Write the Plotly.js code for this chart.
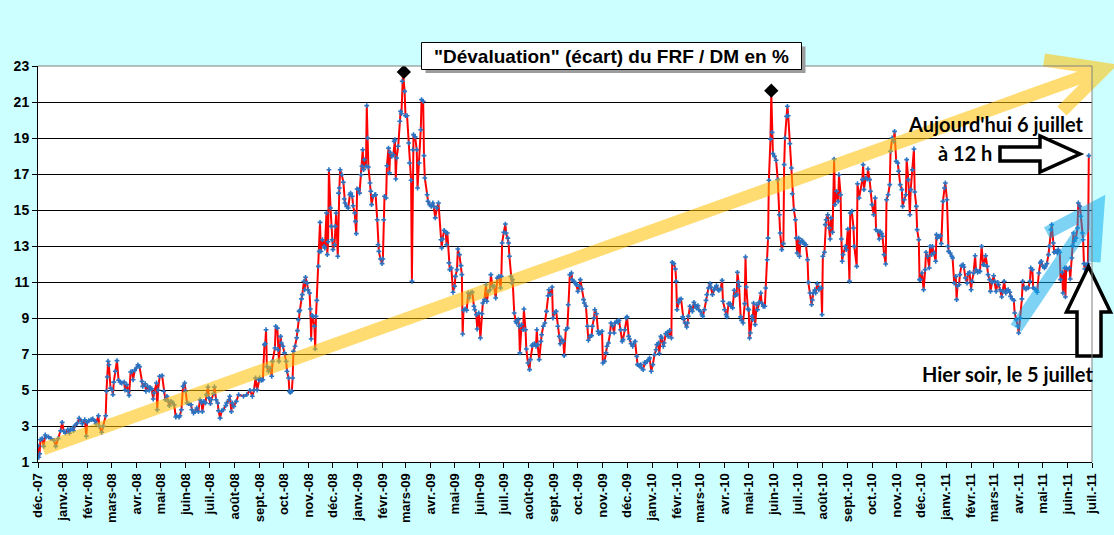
<!DOCTYPE html>
<html>
<head>
<meta charset="utf-8">
<script src="https://cdn.plot.ly/plotly-3.0.1.min.js"></script>
<style>
  html, body { margin: 0; padding: 0; background: #CCFFFF; }
  #chart { width: 1114px; height: 535px; }
</style>
</head>
<body>
<div id="chart"></div>
<script>
/* ----- Data -------------------------- */
// one row per month: day of month of each observation, and the matching value (%)
var obsMonths = [
  '2007-12', '2008-01', '2008-02', '2008-03', '2008-04', '2008-05', '2008-06', '2008-07',
  '2008-08', '2008-09', '2008-10', '2008-11', '2008-12', '2009-01', '2009-02', '2009-03',
  '2009-04', '2009-05', '2009-06', '2009-07', '2009-08', '2009-09', '2009-10', '2009-11',
  '2009-12', '2010-01', '2010-02', '2010-03', '2010-04', '2010-05', '2010-06', '2010-07',
  '2010-08', '2010-09', '2010-10', '2010-11', '2010-12', '2011-01', '2011-02', '2011-03',
  '2011-04', '2011-05', '2011-06'
];

var obsDays = [
  [1,2,3,4,6,8,10,11,14,17,21,23,26,29,31],
  [2,4,7,9,10,13,14,16,19,21,24,25,28,30,31],
  [2,5,7,10,11,14,15,18,20,23,24,25,26,27,29],
  [2,3,4,6,8,10,12,14,17,18,20,22,23,25,27,28,30],
  [1,3,5,8,9,12,13,15,17,18,20,22,23,26,27,28,30],
  [3,5,7,9,11,12,14,16,18,20,21,24,25,27,29,31],
  [1,3,5,8,9,11,13,15,17,19,21,22,24,26,27,29,30],
  [2,3,6,7,9,11,12,14,16,18,21,22,25,26,28,29,31],
  [3,6,12,16,20,23,25,27,29,31],
  [1,3,5,7,8,9,10,12,14,16,17,20,21,23,24,25,27,28,30],
  [2,4,5,7,8,9,11,12,13,15,17,18,19,20,21,23,24,26,27,28,30,31],
  [2,3,4,5,6,8,9,10,11,13,14,15,16,18,20,21,23,24,25,26,28,29,30],
  [1,3,4,5,7,8,9,10,12,14,15,16,18,20,22,23,25,26,28,29,30,31],
  [2,3,5,6,7,8,9,11,12,13,14,16,17,18,20,22,23,25,26,27,29,31],
  [1,2,3,5,6,8,9,10,12,14,15,16,17,18,20,22,23,24,25,26,28],
  [1,3,5,6,8,9,10,11,13,15,16,18,20,21,23,24,25,28,29,31],
  [2,4,5,7,9,11,14,15,16,18,20,21,22,24,25,27,29],
  [1,2,4,5,7,9,10,11,12,14,16,18,19,21,23,25,26,28,29,31],
  [2,4,5,7,9,10,12,14,15,17,19,21,23,25,27,28,29],
  [1,3,4,6,7,8,10,11,12,14,16,17,19,20,21,23,25,26,28,29,31],
  [2,3,5,6,8,10,11,12,14,16,17,19,21,23,25,26,28,30,31],
  [2,4,6,8,9,11,13,14,16,18,19,21,23,24,26,28,29],
  [1,3,4,6,8,9,11,13,14,16,18,19,21,22,24,26,27,29,31],
  [1,3,5,6,8,10,11,13,15,16,18,20,21,23,25,26,28,30],
  [1,3,4,6,8,9,11,13,14,16,18,19,21,23,24,26,28,29,31],
  [2,4,6,7,9,10,12,13,15,16,18,20,21,23,25,26,28,30,31],
  [1,3,4,6,8,9,11,13,14,15,17,19,20,22,23,25,27,28],
  [2,4,5,7,9,10,12,14,15,17,19,20,22,24,25,27,29,30],
  [1,3,4,6,8,9,11,13,14,16,17,18,19,21,22,24,26,27,28,30],
  [1,2,3,5,6,7,9,11,12,14,16,17,19,21,22,24,25,26,28,29,30,31],
  [2,4,6,8,9,11,13,14,15,17,18,19,21,23,24,26,28,29,30],
  [2,3,4,6,8,9,11,13,14,16,18,19,20,22,23,25,27,28,30,31],
  [1,3,4,5,7,9,10,11,13,15,16,18,20,21,23,24,25,26,29,30],
  [1,3,4,6,8,9,12,13,15,19,20,21,23,25,26,28,29],
  [1,3,5,6,8,10,11,13,14,16,18,19,21,23,24,26,28,29,31],
  [2,3,5,7,8,10,12,13,15,17,18,20,22,23,25,26,28,29,30],
  [2,4,6,7,9,11,12,14,15,17,19,20,21,23,25,26,28,30,31],
  [2,3,4,6,8,9,11,13,14,15,17,18,20,22,23,25,27,28,30],
  [1,2,4,6,7,9,11,12,14,16,17,19,21,22,24,25,27],
  [1,2,4,6,7,9,11,12,14,16,17,19,21,22,24,26,27,29,31],
  [1,3,5,6,8,10,11,13,15,16,18,19,21,23,24,26,28,29],
  [1,3,4,6,8,9,11,12,14,15,17,19,20,22,23,25,26,28,29,30],
  [1,3,4,6,7,8,9,11,13,14,16,17,19,20,21,22,24,26,27]
];

var obsValues = [
  [1.9,1.26,1.46,2.24,2.3,1.87,2.5,2.4,2.4,2.3,2.2,1.87,2.3,2.74,3.2],
  [2.7,2.6,2.8,2.6,2.8,2.87,2.74,3.04,3.17,3.43,3.26,3.13,3.35,2.43,3.2],
  [3.3,3.35,3.39,3.26,3.13,3.57,2.98,2.65,2.98,3.57,4.93,5.72,6.6,6.4,5.1],
  [5.0,4.74,5.44,6.04,6.63,5.54,5.43,5.39,5.44,5.0,5.3,4.93,4.7,6.0,6.04,5.57,6.09],
  [6.22,6.4,6.3,5.48,5.2,5.35,4.93,5.2,4.98,5.15,5.06,4.5,4.83,5.39,3.9,5.0,5.76],
  [5.8,4.93,4.46,4.65,4.37,4.13,4.37,4.3,4.18,3.5,3.57,3.5,3.57,3.9,5.2,5.39],
  [4.93,4.28,4.24,4.18,3.9,3.72,3.8,4.0,3.8,4.46,4.3,3.8,4.37,4.28,4.74,5.17,4.56],
  [4.24,4.46,4.8,5.17,4.46,4.28,3.85,3.44,3.85,3.9,4.13,4.28,4.46,4.65,3.8,4.28,4.09],
  [4.37,4.74,4.65,4.74,4.98,4.65,5.0,5.67,5.0,5.57],
  [5.67,5.54,5.57,7.52,7.57,8.35,6.3,6.04,6.22,5.76,6.59,7.33,8.54,8.44,7.24,6.59,7.98,7.61,7.43],
  [7.06,6.59,6.04,5.67,4.93,4.87,4.93,5.67,7.15,7.43,7.9,8.3,8.91,9.37,9.43,10.06,10.3,11.04,10.57,11.26,10.94,10.57],
  [10.39,9.5,7.83,9.15,9.09,8.54,7.28,9.09,9.98,11.87,12.7,14.31,12.7,13.35,12.98,12.89,14.83,12.52,13.24,17.24,15.11,14.09,13.35],
  [12.8,13.07,14.09,14.83,12.43,15.94,16.22,17.24,16.96,16.54,15.61,15.39,15.2,15.11,15.85,15.94,15.76,15.24,14.83,14.37,13.69,16.17],
  [16.13,15.94,16.96,17.43,18.35,17.24,17.8,17.43,20.8,19.0,17.39,16.5,16.04,15.3,15.76,15.85,15.85,14.46,13.07,12.7,12.28,12.02],
  [12.28,14.46,15.76,15.67,17.46,18.44,17.06,18.2,17.98,18.07,18.81,18.91,16.72,17.89,18.54,19.93,20.48,20.35,22.15,22.61,21.59],
  [20.24,20.24,18.72,17.61,16.65,11.04,18.35,19.19,19.06,18.35,16.22,17.61,19.46,21.13,21.04,18.02,16.78,15.85,15.48,15.3],
  [15.2,15.39,15.2,14.56,15.11,15.39,13.35,12.89,13.39,13.87,13.76,13.07,13.72,12.06,11.69,11.78,10.43],
  [10.76,11.31,11.69,12.83,12.52,11.91,11.41,8.11,9.43,9.5,9.43,10.39,10.11,10.39,10.43,9.65,9.46,9.19,8.39,9.28],
  [7.89,9.24,9.83,10.02,10.85,9.93,10.48,10.57,11.41,10.76,10.76,10.11,11.22,11.31,10.67,11.31,13.17],
  [13.76,14.22,13.72,13.44,13.17,12.43,11.31,10.94,11.13,9.28,8.81,8.72,8.91,8.54,7.06,8.63,8.35,9.5,8.35,7.28,6.5],
  [6.13,6.69,7.46,7.52,7.57,7.43,8.35,7.52,6.69,7.7,8.07,8.54,8.72,9.37,10.24,10.57,10.3,10.72,9.0],
  [9.28,9.37,8.54,7.98,7.57,7.8,7.7,6.91,8.35,8.44,9.74,11.41,11.5,11.13,11.04,10.94,10.85],
  [10.48,10.76,11.13,10.61,10.02,9.83,9.65,8.54,7.76,7.98,8.02,8.54,9.0,9.46,9.24,8.26,8.13,8.17,8.26],
  [6.5,6.59,7.06,7.43,7.61,8.17,8.72,8.57,8.17,8.72,8.81,8.76,8.87,8.35,7.7,7.8,8.35,9.0],
  [9.06,7.98,7.83,7.57,7.43,7.57,7.7,6.87,6.41,6.35,6.41,6.22,6.13,6.54,6.5,6.59,6.69,6.78,6.04],
  [6.41,6.96,7.24,7.52,7.61,7.02,7.98,7.89,7.43,7.61,8.13,8.2,7.98,8.31,7.89,12.09,12.02,11.72,11.04],
  [9.46,9.87,10.02,10.06,9.06,8.94,8.72,8.5,8.72,9.09,9.65,9.5,9.37,9.87,9.74,9.56,9.69,9.46],
  [9.37,9.19,9.09,9.46,9.98,10.3,10.67,10.91,10.72,10.3,10.57,10.67,10.8,10.57,10.54,10.61,11.09,9.93],
  [9.46,9.19,9.06,9.8,9.8,9.65,9.56,10.54,10.24,10.3,11.54,10.98,10.76,9.06,8.87,8.72,9.8,12.39,10.72,9.5],
  [9.46,7.89,8.17,9.09,8.91,9.83,8.63,9.74,9.46,9.87,10.39,9.83,9.65,9.65,10.67,12.24,13.44,16.65,18.94,21.5,19.31,18.13],
  [17.98,17.76,16.69,14.74,13.72,12.8,13.13,17.52,19.0,20.2,20.76,20.24,18.69,17.33,15.9,15.02,14.46,13.44,12.61],
  [13.44,12.43,13.17,13.31,13.2,13.1,13.07,12.24,10.98,10.39,9.74,10.0,10.39,10.57,10.39,10.91,10.57,10.67,10.67,9.19],
  [12.43,12.65,14.19,14.46,14.74,14.0,13.39,14.56,13.76,17.83,15.3,16.04,15.48,16.96,15.85,13.39,12.15,12.52,12.98,12.8],
  [13.94,11.04,14.83,14.93,14.0,12.98,11.87,16.46,15.67,16.69,17.52,16.13,16.78,16.72,17.28,16.69,16.04],
  [15.3,14.74,15.67,13.91,13.81,13.39,13.81,13.69,13.54,12.52,12.0,15.57,15.85,16.41,18.26,19.0,18.81,19.37,17.7],
  [17.61,17.15,16.41,16.13,15.2,15.57,15.85,17.8,16.69,14.74,16.13,17.24,18.39,16.0,15.2,13.91,13.35,11.13,11.13],
  [11.5,10.57,11.69,12.65,12.43,11.78,12.98,12.52,12.98,12.61,12.15,13.63,13.44,13.54,13.57,13.13,15.48,16.22,16.5],
  [15.57,12.98,12.7,12.61,12.43,12.33,10.94,11.31,10.02,10.76,10.85,11.41,11.91,11.96,11.83,11.22,10.94,11.46,11.54],
  [10.57,11.04,11.5,12.46,11.69,11.54,11.59,11.59,12.98,11.96,11.96,12.46,11.87,11.41,11.13,10.48,10.98],
  [11.35,11.04,10.48,10.98,10.85,10.57,10.17,10.48,11.04,10.39,10.54,10.57,10.43,10.2,10.06,9.98,9.28,8.91,8.54],
  [8.17,9.0,10.06,11.04,10.67,10.61,10.67,10.67,11.04,11.78,11.69,10.67,10.61,10.54,10.43,11.5,12.06,12.15],
  [11.87,11.78,11.87,12.02,12.52,12.98,13.91,14.19,13.17,12.65,12.7,12.61,12.8,12.65,11.13,11.54,10.39,11.78,10.17,11.78],
  [11.72,11.78,11.17,12.33,13.02,13.72,13.26,13.44,14.0,15.39,15.2,14.65,13.72,13.35,12.02,11.72,11.96,12.02,18.02]
];

// the two black diamonds marking the highest points
var peakDates = ['2009-02-27', '2010-05-29'];
var peakValues = [22.67, 21.63];

// x axis: one tick on the first of every month
var tickDates = [
  '2007-12-01','2008-01-01','2008-02-01','2008-03-01','2008-04-01','2008-05-01','2008-06-01',
  '2008-07-01','2008-08-01','2008-09-01','2008-10-01','2008-11-01','2008-12-01','2009-01-01',
  '2009-02-01','2009-03-01','2009-04-01','2009-05-01','2009-06-01','2009-07-01','2009-08-01',
  '2009-09-01','2009-10-01','2009-11-01','2009-12-01','2010-01-01','2010-02-01','2010-03-01',
  '2010-04-01','2010-05-01','2010-06-01','2010-07-01','2010-08-01','2010-09-01','2010-10-01',
  '2010-11-01','2010-12-01','2011-01-01','2011-02-01','2011-03-01','2011-04-01','2011-05-01',
  '2011-06-01','2011-07-01'
];
var tickLabels = [
  'déc.-07','janv.-08','févr.-08','mars-08','avr.-08','mai-08','juin-08',
  'juil.-08','août-08','sept.-08','oct.-08','nov.-08','déc.-08','janv.-09',
  'févr.-09','mars-09','avr.-09','mai-09','juin-09','juil.-09','août-09',
  'sept.-09','oct.-09','nov.-09','déc.-09','janv.-10','févr.-10','mars-10',
  'avr.-10','mai-10','juin-10','juil.-10','août-10','sept.-10','oct.-10',
  'nov.-10','déc.-10','janv.-11','févr.-11','mars-11','avr.-11','mai-11',
  'juin-11','juil.-11'
];

/* ----- Flatten the monthly rows into date / value series ------- */
var dates = [];
var values = [];
for (var i = 0; i < obsMonths.length; i++) {
    if (obsDays[i].length !== obsValues[i].length) {
        throw new Error('row ' + obsMonths[i] + ': ' + obsDays[i].length + ' days, ' + obsValues[i].length + ' values');
    }
    for (var j = 0; j < obsDays[i].length; j++) {
        var d = obsDays[i][j];
        dates.push(obsMonths[i] + '-' + (d < 10 ? '0' + d : d));
        values.push(obsValues[i][j]);
    }
}

/* ----- Pixel helpers for the drawn decorations ------- */
var W = 1114, H = 535;
var plotL = 38, plotR = 1092, plotT = 66, plotB = 462;

function px(x) { return (x - plotL) / (plotR - plotL); }
function py(y) { return (plotB - y) / (plotB - plotT); }

// builds an SVG path in paper units from lists of pixel points
function pixelPath(parts, close) {
    return parts.map(function(pts) {
        return pts.map(function(p, k) {
            return (k === 0 ? 'M' : 'L') + px(p[0]).toFixed(5) + ',' + py(p[1]).toFixed(5);
        }).join(' ') + (close ? ' Z' : '');
    }).join(' ');
}

function paperShape(path, opts) {
    var s = {type: 'path', xref: 'paper', yref: 'paper', layer: 'above', path: path};
    for (var k in opts) { s[k] = opts[k]; }
    return s;
}

function paperRect(x0, y0, x1, y1, opts) {
    var s = {type: 'rect', xref: 'paper', yref: 'paper', layer: 'above',
             x0: px(x0), x1: px(x1), y0: py(y1), y1: py(y0)};
    for (var k in opts) { s[k] = opts[k]; }
    return s;
}

var shapes = [
    // big yellow trend arrow
    paperShape(pixelPath([[[43, 449], [1104, 69]], [[1044, 60], [1104, 69], [1062, 111]]], false),
        {line: {color: '#FFC000', width: 13}, opacity: 0.55}),
    // blue arrow on the last months
    paperShape(pixelPath([[[1016, 328], [1098, 206]], [[1047, 233], [1098, 206], [1094, 262]]], false),
        {line: {color: '#00A8EC', width: 13}, opacity: 0.5}),
    // black outlined arrow pointing right ("Aujourd'hui")
    paperShape(pixelPath([[[1000, 147], [1040, 147], [1040, 136], [1080, 154], [1040, 172], [1040, 161], [1000, 161]]], true),
        {line: {color: '#000000', width: 3.5}, fillcolor: '#FFFFFF'}),
    // black outlined arrow pointing up ("Hier soir")
    paperShape(pixelPath([[[1077, 356], [1077, 312], [1066.5, 312], [1088.5, 266.5], [1110.5, 312], [1101, 312], [1101, 356]]], true),
        {line: {color: '#000000', width: 3.5}, fillcolor: '#FFFFFF'}),
    // grey top and right border of the plot area
    paperShape(pixelPath([[[plotL, plotT], [plotR, plotT], [plotR, plotB]]], false),
        {line: {color: '#808080', width: 1}}),
    // title box with its shadow
    paperRect(425.5, 46.5, 805.5, 73, {line: {width: 0}, fillcolor: '#9C9C9C'}),
    paperRect(421.5, 42.5, 801.5, 69.5, {line: {color: '#000000', width: 1}, fillcolor: '#FFFFFF'})
];

function pixelText(text, x, y, font) {
    return {text: text, xref: 'paper', yref: 'paper', x: px(x), y: py(y),
            xanchor: 'center', yanchor: 'middle', showarrow: false, font: font};
}

var labelFont = {family: 'Lato, "Open Sans", sans-serif', size: 20, weight: 'bold', color: '#000000'};

var annotations = [
    pixelText('"Dévaluation" (écart) du FRF / DM en %', 611.5, 56.5,
        {family: '"Liberation Sans", Arial, sans-serif', size: 19, weight: 'bold', color: '#000000'}),
    pixelText("Aujourd'hui 6 juillet", 995, 124, labelFont),
    pixelText('à 12 h', 965, 153, labelFont),
    pixelText('Hier soir, le 5 juillet', 1007, 374, labelFont)
];

/* ----- Traces ------- */
var ecartTrace = {
    x: dates,
    y: values,
    type: 'scatter',
    mode: 'lines+markers',
    line: {color: '#FF0000', width: 2},
    marker: {symbol: 'cross', size: 4, color: '#2874C4'},
    hoverinfo: 'x+y'
};

var peakTrace = {
    x: peakDates,
    y: peakValues,
    type: 'scatter',
    mode: 'markers',
    marker: {symbol: 'diamond', size: 11, color: '#000000'},
    hoverinfo: 'x+y'
};

var axisFamily = '"Liberation Sans", Arial, sans-serif';

var layout = {
    width: W,
    height: H,
    paper_bgcolor: '#CCFFFF',
    plot_bgcolor: '#FFFFFF',
    showlegend: false,
    margin: {l: plotL, r: W - plotR, t: plotT, b: H - plotB},
    font: {family: axisFamily, color: '#000000'},
    xaxis: {
        type: 'date',
        range: ['2007-12-01', '2011-07-01'],
        tickmode: 'array',
        tickvals: tickDates,
        ticktext: tickLabels,
        tickangle: -90,
        ticks: 'outside',
        ticklen: 5,
        tickcolor: '#000000',
        showgrid: false,
        showline: true,
        linecolor: '#000000',
        linewidth: 1,
        zeroline: false,
        tickfont: {family: axisFamily, color: '#000000', weight: 'bold', size: 13}
    },
    yaxis: {
        range: [1, 23],
        tick0: 1,
        dtick: 2,
        ticks: 'outside',
        ticklen: 5,
        tickcolor: '#000000',
        showgrid: true,
        gridcolor: '#000000',
        gridwidth: 1,
        showline: true,
        linecolor: '#000000',
        linewidth: 1,
        zeroline: false,
        tickfont: {family: axisFamily, color: '#000000', weight: 'bold', size: 14}
    },
    shapes: shapes,
    annotations: annotations
};

Plotly.newPlot('chart', [ecartTrace, peakTrace], layout, {staticPlot: true});
</script>
</body>
</html>
